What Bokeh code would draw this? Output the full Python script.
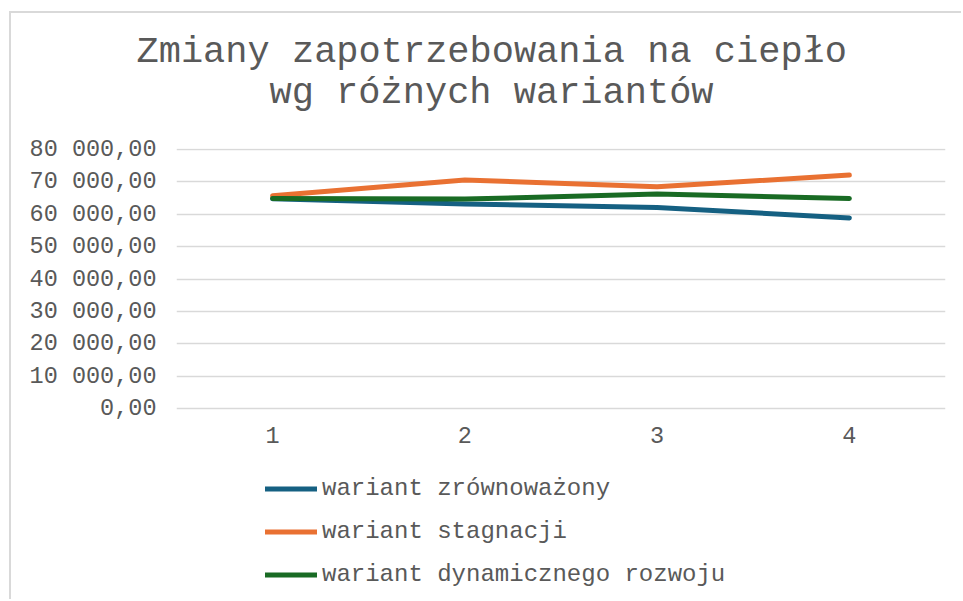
from bokeh.plotting import figure
from bokeh.models import (FixedTicker, Legend, LegendItem, Title, Range1d,
                          LabelSet, ColumnDataSource)
from bokeh.core.properties import value
from bokeh.embed import file_html
from bokeh.resources import INLINE

# ---- data ----
categories = [1, 2, 3, 4]
x_tick_labels = ["1", "2", "3", "4"]
zrownowazony = [64800, 63200, 62100, 58900]
stagnacji = [65700, 70600, 68500, 72100]
dynamiczny = [64900, 64700, 66300, 64900]
series_names = ["wariant zrównoważony", "wariant stagnacji", "wariant dynamicznego rozwoju"]
y_ticks = [0, 10000, 20000, 30000, 40000, 50000, 60000, 70000, 80000]
y_tick_labels = ["0,00", "10 000,00", "20 000,00", "30 000,00", "40 000,00",
                 "50 000,00", "60 000,00", "70 000,00", "80 000,00"]
title_lines = ["Zmiany zapotrzebowania na ciepło", "wg różnych wariantów"]

# ---- style ----
FONT = "Liberation Mono"
TXT = "#595959"
GRID = "#d9d9d9"
colors = ["#156082", "#E97132", "#196B24"]

W, H = 952, 588
p = figure(width=W, height=H, output_backend="svg", toolbar_location=None,
           x_axis_location=None,
           x_range=Range1d(0.5, 4.5), y_range=Range1d(-59450, 80310),
           min_border_left=165, min_border_right=18,
           min_border_top=135, min_border_bottom=0)
p.margin = (13, 0, 0, 11)
p.styles = {"box-shadow": "-2px -2px 0px 0px #d9d9d9"}
p.outline_line_color = None
p.background_fill_color = "white"
p.border_fill_color = "white"

p.title.text = title_lines[0]
p.title.align = "left"
p.title.offset = -40
p.title.standoff = -75
p.title.text_font = FONT
p.title.text_font_size = "37px"
p.title.text_font_style = "normal"
p.title.text_color = TXT
p.add_layout(Title(text=title_lines[1], align="left", offset=93, standoff=69,
                   text_font=FONT, text_font_size="37px", text_font_style="normal",
                   text_color=TXT), "above")

p.xgrid.visible = False
p.ygrid.grid_line_color = GRID
p.ygrid.grid_line_width = 1.5

p.yaxis.ticker = FixedTicker(ticks=y_ticks)
p.yaxis.major_label_overrides = {t: l for t, l in zip(y_ticks, y_tick_labels)}
p.yaxis.axis_line_color = None
p.yaxis.major_tick_line_color = None
p.yaxis.minor_tick_line_color = None
p.yaxis.major_tick_out = 0
p.yaxis.major_tick_in = 0
p.yaxis.major_label_text_font = FONT
p.yaxis.major_label_text_font_size = "23.5px"
p.yaxis.major_label_text_color = TXT
p.yaxis.major_label_standoff = 20

# category labels under the zero line
xlab_src = ColumnDataSource(dict(x=categories, y=[0] * len(categories), t=x_tick_labels))
p.add_layout(LabelSet(x="x", y="y", text="t", source=xlab_src, y_offset=-26,
                      text_align="center", text_baseline="middle",
                      text_font=value(FONT), text_font_size=value("23.5px"),
                      text_color=TXT))

renderers = []
for vals, col in zip([zrownowazony, stagnacji, dynamiczny], colors):
    r = p.line(categories, vals, line_color=col, line_width=5,
               line_cap="round", line_join="round")
    renderers.append(r)

legend = Legend(items=[LegendItem(label=n, renderers=[r]) for n, r in zip(series_names, renderers)],
                location=(89, 8), orientation="vertical",
                padding=0, margin=0, spacing=6,
                glyph_width=52, glyph_height=37, label_height=37, label_standoff=5,
                label_text_font=FONT, label_text_font_size="24px", label_text_color=TXT,
                border_line_color=None, background_fill_alpha=0)
p.add_layout(legend)

open("out.html", "w").write(file_html(p, INLINE))
